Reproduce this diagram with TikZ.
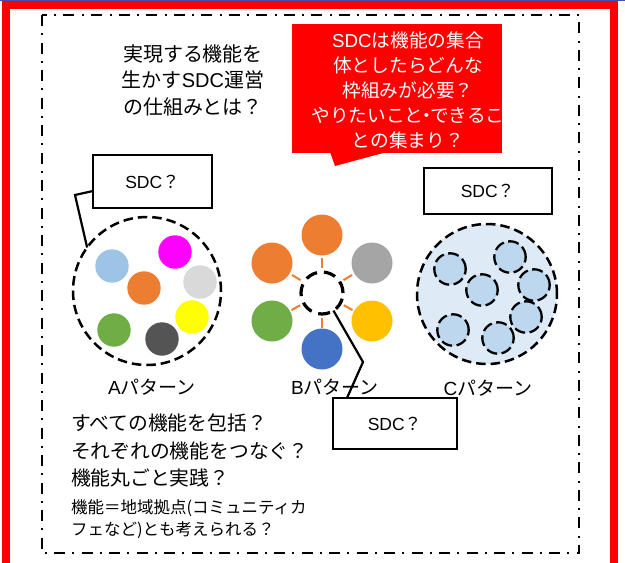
\documentclass[tikz,border=0pt]{standalone}
\usepackage{fontspec}
\setmainfont{Noto Sans CJK JP}
\newfontfamily\arlfont{Liberation Sans}
\usetikzlibrary{calc}
\definecolor{topblue}{HTML}{4A4FA8}
\definecolor{framered}{HTML}{FF0000}
\definecolor{cLBlue}{HTML}{9DC3E6}
\definecolor{cMag}{HTML}{FF00FF}
\definecolor{cOrange}{HTML}{ED7D31}
\definecolor{cLGray}{HTML}{D9D9D9}
\definecolor{cYellow}{HTML}{FFFF00}
\definecolor{cGreen}{HTML}{70AD47}
\definecolor{cDGray}{HTML}{545454}
\definecolor{cGray}{HTML}{A5A5A5}
\definecolor{cGold}{HTML}{FFC000}
\definecolor{cBlue}{HTML}{4472C4}
\definecolor{cPale}{HTML}{DEEBF7}
\definecolor{cSoft}{HTML}{BDD7EE}
\newcommand\lat[1]{{\arlfont #1}}
\begin{document}
\begin{tikzpicture}[x=1pt,y=-1pt,
  every node/.style={inner sep=0pt,outer sep=0pt},
  ablob/.style={circle,minimum size=33.4pt},
  bblob/.style={circle,minimum size=41pt},
  cblob/.style={circle,minimum size=31.4pt,fill=cSoft,draw=black,line width=2.3pt,dash pattern=on 11pt off 4.5pt},
  bigring/.style={circle,draw=black,line width=2.5pt,dash pattern=on 9.5pt off 5pt},
  hub/.style={circle,minimum size=42pt,draw=black,line width=3.2pt,dash pattern=on 12pt off 7pt},
  spoke/.style={draw=cOrange,line width=2pt},
  sdcbox/.style={draw=black,line width=2.2pt,fill=white,font=\fontsize{17.5}{20}\selectfont},
  leader/.style={draw=black,line width=2.2pt},
  lbl/.style={font=\fontsize{19}{22}\selectfont},
  frameline/.style={draw=black,line width=2.5pt,dash pattern=on 11pt off 7pt on 2pt off 7.5pt}
]
\useasboundingbox (0,0) rectangle (625,563);
\fill[white] (0,0) rectangle (625,563);
% outer frame
\fill[topblue] (0,0) rectangle (625,1.2);
\fill[framered] (2,1.2) rectangle (10,563);
\fill[framered] (2,1.2) rectangle (618,9);
\fill[framered] (610,1.2) rectangle (618,563);
% dash-dot frame
\draw[frameline] (42,15) rectangle (579,553);

% title
\node[align=center,font=\fontsize{20}{26.5}\selectfont] (title) at (193,80)
  {実現する機能を\\生かす\lat{SDC}運営\\の仕組みとは？};

% red callout
\node[fill=framered,minimum width=210pt,minimum height=129pt] (rq) at (397,88.5) {};
\fill[framered] ($(rq.south west)+(38,-1)$) -- (335,166) -- ($(rq.south west)+(95,-1)$) -- cycle;
\node[align=center,text=white,font=\fontsize{18.7}{25}\selectfont] (rqtext) at (408,90)
  {\lat{SDC}は機能の集合\\体としたらどんな\\枠組みが必要？\\やりたいこと\makebox[0.35em]{・}できるこ\\との集まり？};

% A pattern
\node[bigring,minimum size=148pt] (acirc) at (147,291) {};
\node[ablob,fill=cLBlue] (a1) at (112,266) {};
\node[ablob,fill=cMag] (a2) at (175,252) {};
\node[ablob,fill=cOrange] (a3) at (144,288) {};
\node[ablob,fill=cLGray] (a4) at (200,282) {};
\node[ablob,fill=cYellow] (a5) at (192,317) {};
\node[ablob,fill=cGreen] (a6) at (114,330) {};
\node[ablob,fill=cDGray] (a7) at (162,339) {};
\node[sdcbox,minimum width=119pt,minimum height=53pt] (abox) at (152.5,181.5) {\lat{SDC}？};
\coordinate (ak) at (75,195);
\draw[leader] ($(abox.west)+(0,9.5)$) -- (ak) -- (acirc.144);
\node[lbl] (alabel) at (152,387) {\lat{A}パターン};

% B pattern
\node[hub] (bc) at (322,293) {};
\node[bblob,fill=cOrange] (b1) at (322,235) {};
\node[bblob,fill=cOrange] (b2) at (272,263) {};
\node[bblob,fill=cGray] (b3) at (372,263) {};
\node[bblob,fill=cGreen] (b4) at (272,321) {};
\node[bblob,fill=cGold] (b5) at (372,321) {};
\node[bblob,fill=cBlue] (b6) at (322,349) {};
\foreach \b in {b1,b2,b3,b4,b5,b6}
  \draw[spoke] ($(bc.center)!25pt!(\b.center)$) -- ($(bc.center)!35pt!(\b.center)$);
\node[lbl] (blabel) at (335,387) {\lat{B}パターン};
\node[sdcbox,minimum width=124pt,minimum height=51pt] (bbox) at (395,423.5) {\lat{SDC}？};
\coordinate (bk) at (363,362);
\draw[leader] (bc.-57) -- (bk) -- ($(bbox.north west)+(14,0)$);

% C pattern
\node[sdcbox,minimum width=128pt,minimum height=46pt] (cbox) at (488,191) {\lat{SDC}？};
\node[bigring,fill=cPale,minimum size=140pt] (ccirc) at (487,294) {};
\node[cblob] (c1) at (450,269) {};
\node[cblob] (c2) at (510,257) {};
\node[cblob] (c3) at (482,290) {};
\node[cblob] (c4) at (534,285) {};
\node[cblob] (c5) at (526,317) {};
\node[cblob] (c6) at (453,330) {};
\node[cblob] (c7) at (498,338) {};
\node[lbl] (clabel) at (488,388) {\lat{C}パターン};

% bottom questions
\node[align=left,anchor=west,font=\fontsize{19.8}{27.5}\selectfont] (qs) at (71,450.5)
  {すべての機能を包括？\\それぞれの機能をつなぐ？\\機能丸ごと実践？};
\node[align=left,anchor=west,font=\fontsize{16.5}{22}\selectfont] (note) at (71,519)
  {機能＝地域拠点(コミュニティカ\\フェなど)とも考えられる？};
\end{tikzpicture}
\end{document}
